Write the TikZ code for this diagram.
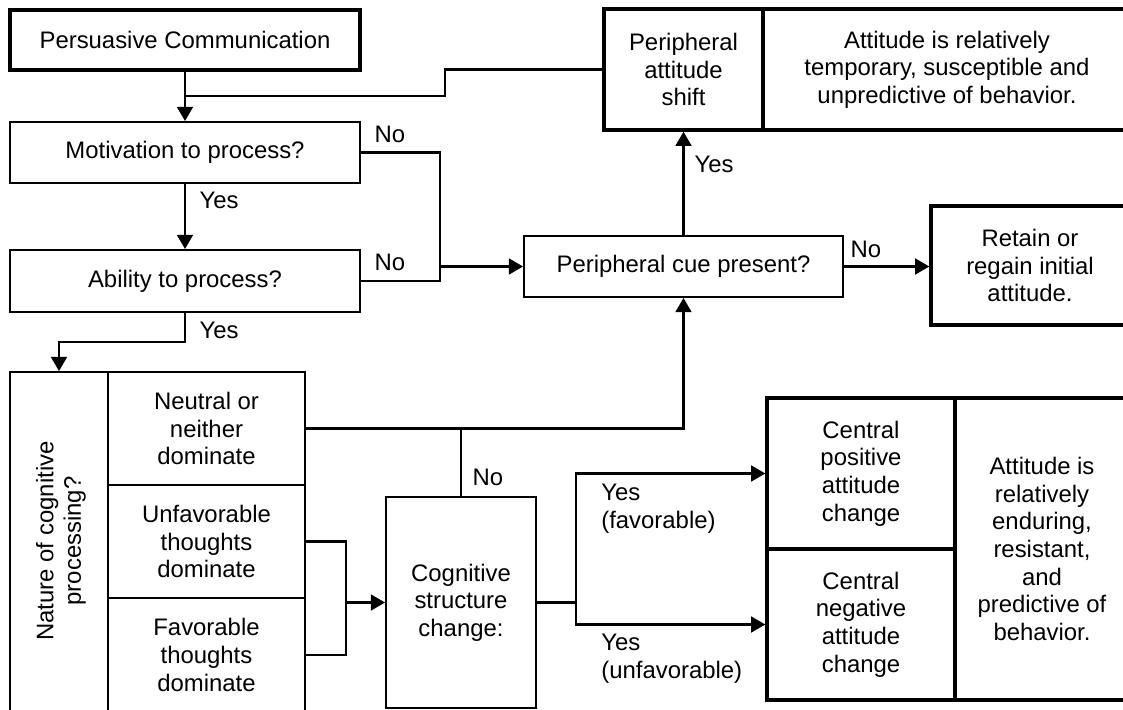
\documentclass[tikz,border=0pt]{standalone}
\usepackage{fontspec}
\setmainfont{Liberation Sans}
\usetikzlibrary{arrows.meta}
\begin{document}
\begin{tikzpicture}[x=0.02cm,y=-0.02cm,
  every node/.style={font=\fontsize{13.6}{15.7}\selectfont},
  box/.style={draw=black,line width=1.15pt,rectangle,inner sep=0pt,align=center},
  thickbox/.style={box,line width=2pt},
  conn/.style={line width=1.15pt},
  arr/.style={conn,-{Triangle[length=8pt,width=9pt]}},
  lbl/.style={inner sep=0pt}]
\useasboundingbox (0,0) rectangle (1123,710);
\fill[white] (0,0) rectangle (1123,710);
\clip (0,0) rectangle (1123,710);

% left column
\node[thickbox,minimum width=7cm,minimum height=1.2cm] (pc) at (185,40) {Persuasive Communication};
\node[box,minimum width=7cm,minimum height=1.22cm] (mot) at (185,152.5) {Motivation to process?};
\node[box,minimum width=7cm,minimum height=1.24cm] (abl) at (185,281) {Ability to process?};

% top right
\node[thickbox,minimum width=3.18cm,minimum height=2.42cm] (pshift) at (683.5,69.5) {Peripheral\\attitude\\shift};
\node[thickbox,minimum width=7.36cm,minimum height=2.42cm] (ptext) at (947,69.5) {Attitude is relatively\\temporary, susceptible and\\unpredictive of behavior.};
\node[box,minimum width=6.38cm,minimum height=1.22cm] (pcue) at (683.5,266.5) {Peripheral cue present?};
\node[thickbox,minimum width=3.96cm,minimum height=2.38cm] (retain) at (1030,265.5) {Retain or\\regain initial\\attitude.};

% nature of processing
\node[box,minimum width=1.96cm,minimum height=6.8cm] (nature) at (59,542) {};
\node[lbl,rotate=90,align=center] (naturetxt) at (61,541) {Nature of cognitive\\processing?};
\node[box,minimum width=3.94cm,minimum height=2.26cm] (neutral) at (206.5,428.5) {Neutral or\\neither\\dominate};
\node[box,minimum width=3.94cm,minimum height=2.26cm] (unfav) at (206.5,541.5) {Unfavorable\\thoughts\\dominate};
\node[box,minimum width=3.94cm,minimum height=2.28cm] (fav) at (206.5,655) {Favorable\\thoughts\\dominate};

% cognitive structure change
\node[box,minimum width=3cm,minimum height=4.22cm] (cog) at (461,602.5) {Cognitive\\structure\\change:};

% central route outcomes
\node[thickbox,minimum width=3.76cm,minimum height=3.02cm] (cpos) at (861,473.5) {Central\\positive\\attitude\\change};
\node[thickbox,minimum width=3.76cm,minimum height=3.02cm] (cneg) at (861,624.5) {Central\\negative\\attitude\\change};
\node[thickbox,minimum width=3.48cm,minimum height=6.04cm] (cright) at (1042,549) {Attitude is\\relatively\\enduring,\\resistant,\\and\\predictive of\\behavior.};

% junction coordinates
\coordinate (j1) at (185,96);
\coordinate (j2) at (440,266.5);
\coordinate (j3) at (576,602.5);
\coordinate (j4) at (346,602.5);

% connectors
\draw[arr] (pc.south) -- (mot.north);
\draw[conn] (pshift.west) -| (445,96) -- (j1);
\draw[arr] (mot.south) -- (abl.north);
\draw[conn] (mot.east) -| (440,281) -- (abl.east);
\draw[arr] (j2) -- (pcue.west);
\draw[arr] (pcue.north) -- (pshift.south);
\draw[arr] (pcue.east) -- (pcue.east -| retain.west);
\draw[arr] (abl.south) -- ++(0,29) -| (nature.north);
\draw[arr] (neutral.east) -| (pcue.south);
\draw[conn] (cog.north) -- (cog.north |- neutral.east);
\draw[conn] (unfav.east) -| (j4) |- (fav.east);
\draw[arr] (j4) -- (cog.west);
\draw[conn] (cog.east) -- (j3);
\draw[arr] (j3) |- (cpos.west);
\draw[arr] (j3) |- (cneg.west);

% labels
\node[lbl] (l1) at (219,200) {Yes};
\node[lbl] (l2) at (390,134) {No};
\node[lbl] (l3) at (390,262) {No};
\node[lbl] (l4) at (219,330) {Yes};
\node[lbl] (l5) at (714,164) {Yes};
\node[lbl] (l6) at (866,249) {No};
\node[lbl] (l7) at (488,477) {No};
\node[lbl,anchor=west,align=left] (l8) at (601,508.5) {Yes\\(favorable)};
\node[lbl,anchor=west,align=left] (l9) at (601,659) {Yes\\(unfavorable)};
\end{tikzpicture}
\end{document}
